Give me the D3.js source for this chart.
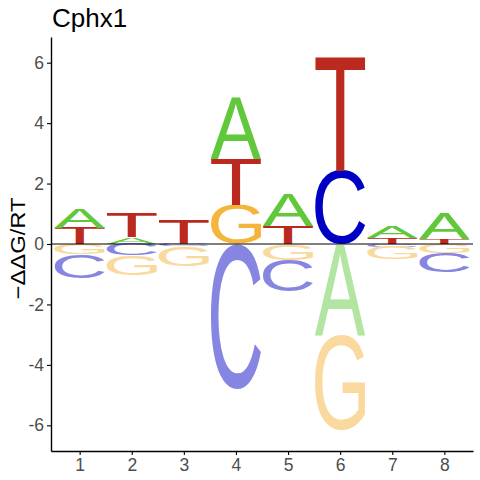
<!DOCTYPE html>
<html>
<head>
<meta charset="utf-8">
<script src="https://cdn.jsdelivr.net/npm/d3@7"></script>
<style>
html,body{margin:0;padding:0;background:#fff;}
svg{display:block;}
</style>
</head>
<body>
<svg id="chart" width="480" height="480"></svg>
<script>
// ---- data ----
const positions = [1, 2, 3, 4, 5, 6, 7, 8];
const letters = ["A", "C", "G", "T"];
const valA = [0.625, 0.22, 0.0, 2.05, 1.07, -3.05, 0.36, 0.86];
const valC = [-0.77, -0.38, -0.08, -4.81, -1.04, 2.42, -0.10, -0.66];
const valG = [-0.35, -0.66, -0.67, 1.30, -0.53, -3.12, -0.41, -0.29];
const valT = [0.54, 0.82, 0.81, 1.51, 0.59, 3.78, 0.20, 0.17];
const yTicks = [-6, -4, -2, 0, 2, 4, 6];
const title = "Cphx1";
const yLabel = "\u2212\u0394\u0394G/RT";

const posColors = {A: "#61C83C", C: "#0000C4", G: "#F5B53B", T: "#BA2A1F"};
const negColors = {A: "#B2E4A2", C: "#8686E2", G: "#FAD99E", T: "#DC938D"};

const values = {A: valA, C: valC, G: valG, T: valT};

// ---- layout ----
const svg = d3.select("#chart");
const x = d3.scaleLinear().domain([0.45, 8.55]).range([51, 473]);
const y = d3.scaleLinear().domain([-6.85, 6.85]).range([451, 37]);
const letterWidth = 0.96;
const FONT = "'Liberation Sans', Arial, sans-serif";

// measure ink box of glyphs
const inkCache = {};
function inkBox(ch) {
  if (inkCache[ch]) return inkCache[ch];
  const c = document.createElement("canvas");
  c.width = 400; c.height = 400;
  const ctx = c.getContext("2d");
  ctx.font = "200px 'Liberation Sans'";
  ctx.fillStyle = "#000";
  ctx.textBaseline = "alphabetic";
  ctx.fillText(ch, 100, 300);
  const d = ctx.getImageData(0, 0, 400, 400).data;
  let minX = 400, maxX = -1, minY = 400, maxY = -1;
  for (let yy = 0; yy < 400; yy++) {
    for (let xx = 0; xx < 400; xx++) {
      if (d[(yy * 400 + xx) * 4 + 3] > 110) {
        if (xx < minX) minX = xx;
        if (xx > maxX) maxX = xx;
        if (yy < minY) minY = yy;
        if (yy > maxY) maxY = yy;
      }
    }
  }
  const box = {left: minX - 100, right: maxX + 1 - 100, top: minY - 300, bottom: maxY + 1 - 300};
  inkCache[ch] = box;
  return box;
}

// build stacks
const rects = [];
positions.forEach((p, i) => {
  const items = letters.map(l => ({l, v: values[l][i]}));
  const pos = items.filter(d => d.v > 0).sort((a, b) => a.v - b.v);
  const neg = items.filter(d => d.v < 0).sort((a, b) => b.v - a.v);
  let acc = 0;
  pos.forEach(d => { rects.push({p, l: d.l, y0: acc, y1: acc + d.v, color: posColors[d.l]}); acc += d.v; });
  acc = 0;
  neg.forEach(d => { rects.push({p, l: d.l, y0: acc + d.v, y1: acc, color: negColors[d.l]}); acc += d.v; });
});

const gLetters = svg.append("g");
rects.forEach(r => {
  const box = inkBox(r.l);
  const rx = x(r.p - letterWidth / 2);
  const rw = x(r.p + letterWidth / 2) - rx;
  const ry = y(r.y1);
  const rh = y(r.y0) - ry;
  if (rh < 0.2) return;
  const sx = rw / (box.right - box.left);
  const sy = rh / (box.bottom - box.top);
  gLetters.append("text")
    .attr("font-family", FONT)
    .attr("font-size", 200)
    .attr("fill", r.color)
    .attr("x", 0).attr("y", 0)
    .attr("transform", `translate(${rx},${ry}) scale(${sx},${sy}) translate(${-box.left},${-box.top})`)
    .text(r.l);
});

// zero line
svg.append("line")
  .attr("x1", x.range()[0]).attr("x2", x.range()[1])
  .attr("y1", y(0)).attr("y2", y(0))
  .attr("stroke", "#000").attr("stroke-width", 1.1);

// axes
const yAxis = d3.axisLeft(y).tickValues(yTicks).tickFormat(d => String(d)).tickSizeInner(4).tickSizeOuter(0).tickPadding(3);
const xAxis = d3.axisBottom(x).tickValues(positions).tickFormat(d => String(d)).tickSizeInner(4).tickSizeOuter(0).tickPadding(4);

const gy = svg.append("g").attr("transform", `translate(${x.range()[0]},0)`).call(yAxis);
const gx = svg.append("g").attr("transform", `translate(0,${y.range()[0]})`).call(xAxis);
[gx, gy].forEach(g => {
  g.select(".domain").attr("stroke", "#000").attr("stroke-width", 1.4);
  g.selectAll(".tick line").attr("stroke", "#000").attr("stroke-width", 1.1);
  g.selectAll(".tick text").attr("fill", "#4D4D4D").attr("font-size", 17.5).attr("font-family", FONT);
});

// title
svg.append("text")
  .attr("x", 52).attr("y", 27)
  .attr("font-family", FONT).attr("font-size", 26).attr("fill", "#000")
  .text(title);

// y label
svg.append("text")
  .attr("transform", `translate(24.5,248.5) rotate(-90)`)
  .attr("text-anchor", "middle")
  .attr("font-family", FONT).attr("font-size", 21).attr("fill", "#000")
  .attr("textLength", 102).attr("lengthAdjust", "spacingAndGlyphs")
  .text(yLabel);
</script>
</body>
</html>
